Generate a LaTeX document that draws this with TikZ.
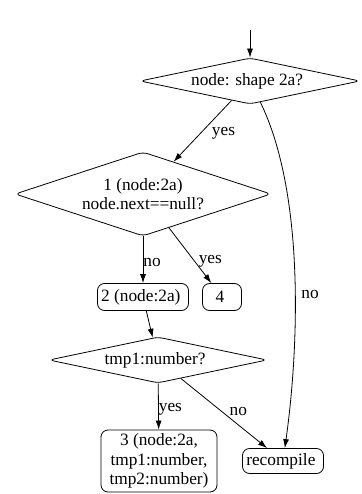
\documentclass[tikz,border=0pt]{standalone}
\usepackage{fontspec}
\setmainfont{Liberation Serif}
\usetikzlibrary{
	arrows.meta,
	calc,
	positioning,
	shapes.geometric
}

\begin{document}
\begin{tikzpicture} [
		x = 1pt,
		y = -1pt,
		font = \fontsize{17.3}{19.5}\selectfont,
		decision/.style = {
			diamond,
			draw,
			line width = 0.8pt,
			rounded corners = 5pt,
			inner sep = 0pt,
			align = center,
		},
		block/.style = {
			rectangle,
			draw,
			line width = 0.8pt,
			rounded corners = 7pt,
			inner sep = 2pt,
			align = center,
		},
		line/.style = {
			draw,
			line width = 0.8pt,
			-{Latex[length = 9pt, width = 6pt]},
		},
		line-caption/.style = {
			inner sep = 1pt
		}
	]
	\useasboundingbox (0,0) rectangle (361,494);

	\coordinate (start) at (250,30);

	\node[decision, aspect = 4.78, minimum width = 220pt, minimum height = 46pt] (shape) at (250,81) {
		node: shape 2a?
	};
	\node[decision, aspect = 3.05, minimum width = 256pt, minimum height = 84pt] (next) at (143,194) {
		1 (node:2a)\\node.next==null?
	};
	\node[block, minimum width = 91pt, minimum height = 27pt] (two) at (143,297) {
		2 (node:2a)
	};
	\node[block, minimum width = 39pt, minimum height = 27pt] (four) at (222,297) {
		4
	};
	\node[decision, aspect = 4.74, minimum width = 218pt, minimum height = 46pt] (num) at (158,360) {
		tmp1:number?
	};
	\node[block, minimum width = 116pt, minimum height = 62pt] (three) at (159,461) {
		3 (node:2a,\\tmp1:number,\\tmp2:number)
	};
	\node[block, minimum width = 81pt, minimum height = 25pt] (recompile) at (283,461) {
		recompile
	};

	\begin{scope} [
			every path/.style = line,
			every node/.style = line-caption
		]
		\path (start) -- (shape);
		\path (shape) -- node[right, xshift = 8pt, yshift = -2pt] {yes} (next);
		\path (shape) to[out = -64, in = 82, looseness = 0.75]
			node[right, pos = 0.55, xshift = 5pt, yshift = -4pt] {no} (recompile);

		\path (next) -- node[right, pos = 0.55, xshift = -1pt] {no} (two);
		\path (next) -- node[right, pos = 0.6, xshift = 3pt] {yes} (four);

		\path (two) -- (num);
		\path (num) -- node[right, xshift = -1pt, yshift = -3pt] {yes} (three);
		\path (num) -- node[above right, pos = 0.55] {no} (recompile);
	\end{scope}
\end{tikzpicture}
\end{document}
